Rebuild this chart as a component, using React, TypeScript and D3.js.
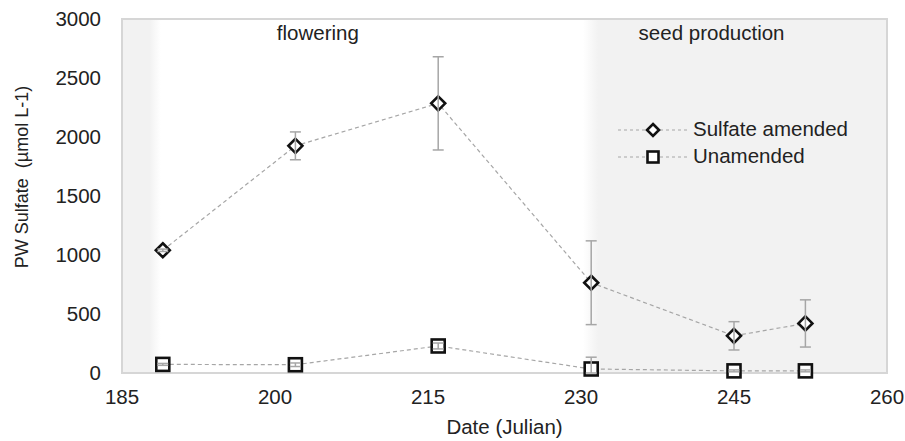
import React from "react";
import * as d3 from "d3";

const days = [189, 202, 216, 231, 245, 252];
const sulfateAmended = [1040, 1925, 2285, 765, 315, 420];
const sulfateErr = [10, 118, 395, 355, 120, 200];
const unamended = [73, 70, 229, 34, 18, 18];
const unamendedErr = [8, 15, 25, 100, 8, 8];
const xTicks = [185, 200, 215, 230, 245, 260];
const yTicks = [0, 500, 1000, 1500, 2000, 2500, 3000];
const phaseLabels = ["flowering", "seed production"];
const phaseLabelDays = [204.2, 242.8];
const shadeStart = [185, 230.2];
const shadeEnd = [188.8, 260];

const W = 905, H = 441;
const m = { left: 122, right: 887, top: 19, bottom: 373 };
const FONT = "'Liberation Sans', Arial, sans-serif";
const FS = 20.5;
const TXT = "#222";

export default function App() {
  const x = d3.scaleLinear().domain([185, 260]).range([m.left, m.right]);
  const y = d3.scaleLinear().domain([0, 3000]).range([m.bottom, m.top]);
  const line = d3.line<number>().x((_, i) => x(days[i])).y((v) => y(v));
  const gray = "#a6a6a6";
  const diamond = (cx: number, cy: number, r: number) =>
    `M${cx},${cy - r}L${cx + r},${cy}L${cx},${cy + r}L${cx - r},${cy}Z`;

  const errBars = (vals: number[], errs: number[], key: string) =>
    vals.map((v, i) => {
      const cx = x(days[i]);
      const y1 = y(v + errs[i]);
      const y2 = y(Math.max(0, v - errs[i]));
      return (
        <g key={key + i} stroke={gray} strokeWidth={1.5}>
          <line x1={cx} x2={cx} y1={y1} y2={y2} />
          <line x1={cx - 5.5} x2={cx + 5.5} y1={y1} y2={y1} />
          <line x1={cx - 5.5} x2={cx + 5.5} y1={y2} y2={y2} />
        </g>
      );
    });

  return (
    <svg width={W} height={H} style={{ position: "absolute", left: 0, top: 0, background: "#fff" }} fontFamily={FONT}>
      <defs>
        <linearGradient id="g0" x1="0" x2="1" y1="0" y2="0">
          <stop offset="0" stopColor="#f2f2f2" />
          <stop offset="0.72" stopColor="#f2f2f2" />
          <stop offset="1" stopColor="#ffffff" />
        </linearGradient>
        <linearGradient id="g1" x1="0" x2="1" y1="0" y2="0">
          <stop offset="0" stopColor="#ffffff" />
          <stop offset="0.05" stopColor="#f2f2f2" />
          <stop offset="1" stopColor="#f2f2f2" />
        </linearGradient>
      </defs>
      {shadeStart.map((s, i) => (
        <rect key={"sh" + i} x={x(s)} y={m.top} width={x(shadeEnd[i]) - x(s)} height={m.bottom - m.top} fill={`url(#g${i})`} />
      ))}
      <rect x={m.left} y={m.top} width={m.right - m.left} height={m.bottom - m.top} fill="none" stroke="#d6d6d6" strokeWidth={2} />
      {phaseLabels.map((t, i) => (
        <text key={t} x={x(phaseLabelDays[i])} y={39.5} textAnchor="middle" fontSize={FS} fill={TXT}>{t}</text>
      ))}
      {yTicks.map((t) => (
        <text key={"y" + t} x={101} y={y(t) + 7} textAnchor="end" fontSize={FS} fill={TXT}>{t}</text>
      ))}
      {xTicks.map((t) => (
        <text key={"x" + t} x={x(t)} y={404} textAnchor="middle" fontSize={FS} fill={TXT}>{t}</text>
      ))}
      <text x={(m.left + m.right) / 2} y={434} textAnchor="middle" fontSize={FS} fill={TXT}>Date (Julian)</text>
      <text transform={`translate(28,177) rotate(-90)`} textAnchor="middle" fontSize={18} fill={TXT} style={{ whiteSpace: "pre" }}>PW Sulfate  (µmol L-1)</text>

      <path d={line(sulfateAmended) || ""} fill="none" stroke={gray} strokeWidth={1.2} strokeDasharray="4,3" />
      <path d={line(unamended) || ""} fill="none" stroke={gray} strokeWidth={1.2} strokeDasharray="4,3" />
      {sulfateAmended.map((v, i) => (
        <path key={"d" + i} d={diamond(x(days[i]), y(v), 7)} fill="#fff" stroke="#111" strokeWidth={2.6} />
      ))}
      {unamended.map((v, i) => (
        <rect key={"s" + i} x={x(days[i]) - 6.5} y={y(v) - 6.5} width={13} height={13} fill="#fff" stroke="#111" strokeWidth={2.6} />
      ))}
      {errBars(sulfateAmended, sulfateErr, "ea")}
      {errBars(unamended, unamendedErr, "eu")}

      <g>
        <line x1={618} x2={688} y1={130} y2={130} stroke={gray} strokeWidth={1.2} strokeDasharray="3,3" />
        <path d={diamond(653, 130, 6)} fill="#fff" stroke="#111" strokeWidth={2.6} />
        <text x={693} y={135.5} fontSize={FS} fill={TXT}>Sulfate amended</text>
        <line x1={618} x2={688} y1={157} y2={157} stroke={gray} strokeWidth={1.2} strokeDasharray="3,3" />
        <rect x={647.5} y={151.5} width={11} height={11} fill="#fff" stroke="#111" strokeWidth={2.6} />
        <text x={693} y={162.5} fontSize={FS} fill={TXT}>Unamended</text>
      </g>
    </svg>
  );
}
